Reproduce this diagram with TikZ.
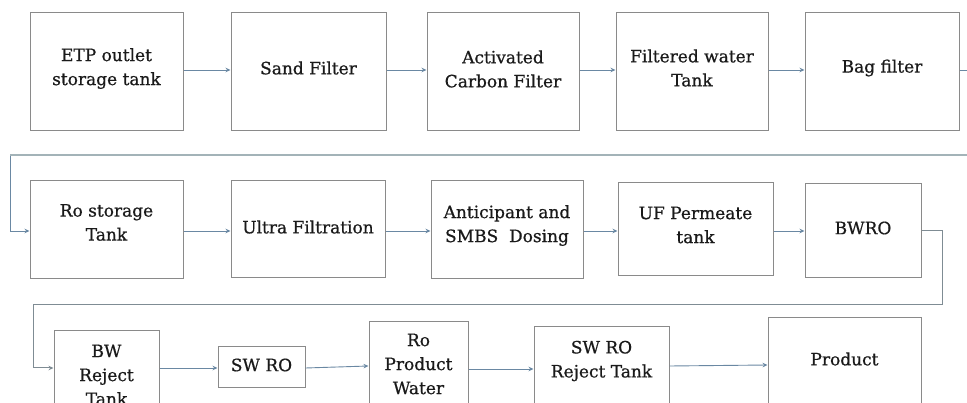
\documentclass[tikz,border=0pt]{standalone}
\usepackage{fontspec}
\setmainfont{DejaVu Serif}
\newfontfamily\diagfont{DejaVu Serif}[FakeBold=0.7]
\usetikzlibrary{arrows.meta}
\definecolor{boxc}{HTML}{8A8A8A}
\definecolor{arrc}{HTML}{6A88A3}
\definecolor{loopc}{HTML}{A3B3B8}
\definecolor{loopd}{HTML}{7F8C94}
\definecolor{txtc}{HTML}{1A1A1A}
\tikzset{
  box/.style n args={2}{draw=boxc, line width=1pt, fill=white, inner sep=0pt,
    minimum width=#1, minimum height=#2},
  txt/.style={font=\diagfont\fontsize{17}{24}\selectfont, text=txtc, align=center, inner sep=0pt},
  arr/.style={draw=arrc, line width=0.9pt, -{Stealth[length=5pt,width=4.5pt]}},
  looparr/.style={draw=loopd, line width=1pt, -{Stealth[length=5pt,width=4.5pt]}},
}
\begin{document}
\begin{tikzpicture}[x=1pt,y=-1pt]
\path[use as bounding box, fill=white] (0,0) rectangle (967,403);
\clip (0,0) rectangle (967,403);

% row 1
\node[box={153}{118}] (etp)  at (106.5,72) {};
\node[box={155}{118}] (sand) at (308.5,72) {};
\node[box={152}{118}] (acf)  at (503,72) {};
\node[box={152}{118}] (fwt)  at (692,72) {};
\node[box={154}{118}] (bag)  at (882,72) {};
\node[txt] (etpt)  at (106.5,68.5) {ETP outlet\\storage tank};
\node[txt] (sandt) at (308.5,68) {Sand Filter};
\node[txt] (acft)  at (503,69) {Activated\\Carbon Filter};
\node[txt] (fwtt)  at (692,68) {Filtered water\\Tank};
\node[txt] (bagt)  at (882,68) {Bag filter};

% row 2
\node[box={153}{98}] (ro)   at (106.5,230) {};
\node[box={154}{97}] (uf)   at (308,229.5) {};
\node[box={152}{98}] (asd)  at (507,230) {};
\node[box={155}{93}] (ufp)  at (695.5,229.5) {};
\node[box={116}{94}] (bwro) at (863,231) {};
\node[txt] (rot)   at (106.5,222.5) {Ro storage\\Tank};
\node[txt] (uft)   at (308,227) {Ultra Filtration};
\node[txt] (asdt)  at (507,225.5) {Anticipant and\\SMBS\ \ Dosing};
\node[txt] (ufpt)  at (695.5,225) {UF Permeate\\tank};
\node[txt] (bwrot) at (863,228) {BWRO};

% row 3
\node[box={105}{100}] (bwr)  at (106.5,381) {};
\node[box={87}{41}]   (swro) at (261.5,367.5) {};
\node[box={99}{110}]  (rpw)  at (418.5,377) {};
\node[box={135}{110}] (swrj) at (601.5,382) {};
\node[box={153}{120}] (prod) at (844.5,378) {};
\node[txt] (bwrt)  at (106.5,375) {BW\\Reject\\Tank};
\node[txt] (swrot) at (261.5,365) {SW RO};
\node[txt] (rpwt)  at (418.5,364) {Ro\\Product\\Water};
\node[txt] (swrjt) at (601.5,361) {SW RO\\Reject Tank};
\node[txt] (prodt) at (844.5,359) {Product};

% row coordinates
\coordinate (r1) at (0,70);
\coordinate (r2) at (0,231);
\coordinate (r3a) at (0,368);
\coordinate (r3b) at (0,366);
\coordinate (r3c) at (0,369);
\coordinate (r3d) at (0,365);
\coordinate (l1a) at (975,155);
\coordinate (l1b) at (10,155);
\coordinate (l2a) at (942,305);
\coordinate (l2b) at (33,305);

% row 1 arrows
\draw[arr] (etp.east |- r1) -- (sand.west |- r1);
\draw[arr] (sand.east |- r1) -- (acf.west |- r1);
\draw[arr] (acf.east |- r1) -- (fwt.west |- r1);
\draw[arr] (fwt.east |- r1) -- (bag.west |- r1);
% loop to row 2
\draw[arr] (bag.east |- r1) -| (l1a) -- (l1b) |- (ro.west |- r2);
\draw[draw=loopc, line width=1.6pt] (l1a) -- (l1b);

% row 2 arrows
\draw[arr] (ro.east |- r2) -- (uf.west |- r2);
\draw[arr] (uf.east |- r2) -- (asd.west |- r2);
\draw[arr] (asd.east |- r2) -- (ufp.west |- r2);
\draw[arr] (ufp.east |- r2) -- (bwro.west |- r2);
% loop to row 3
\draw[looparr] (bwro.east |- r2) -| (l2a) -- (l2b) |- (bwr.west |- r3a);

% row 3 arrows
\draw[arr] (bwr.east |- r3a) -- (swro.west |- r3a);
\draw[arr] (swro.east |- r3a) -- (rpw.west |- r3b);
\draw[arr] (rpw.east |- r3c) -- (swrj.west |- r3c);
\draw[arr] (swrj.east |- r3b) -- (prod.west |- r3d);
\end{tikzpicture}
\end{document}
